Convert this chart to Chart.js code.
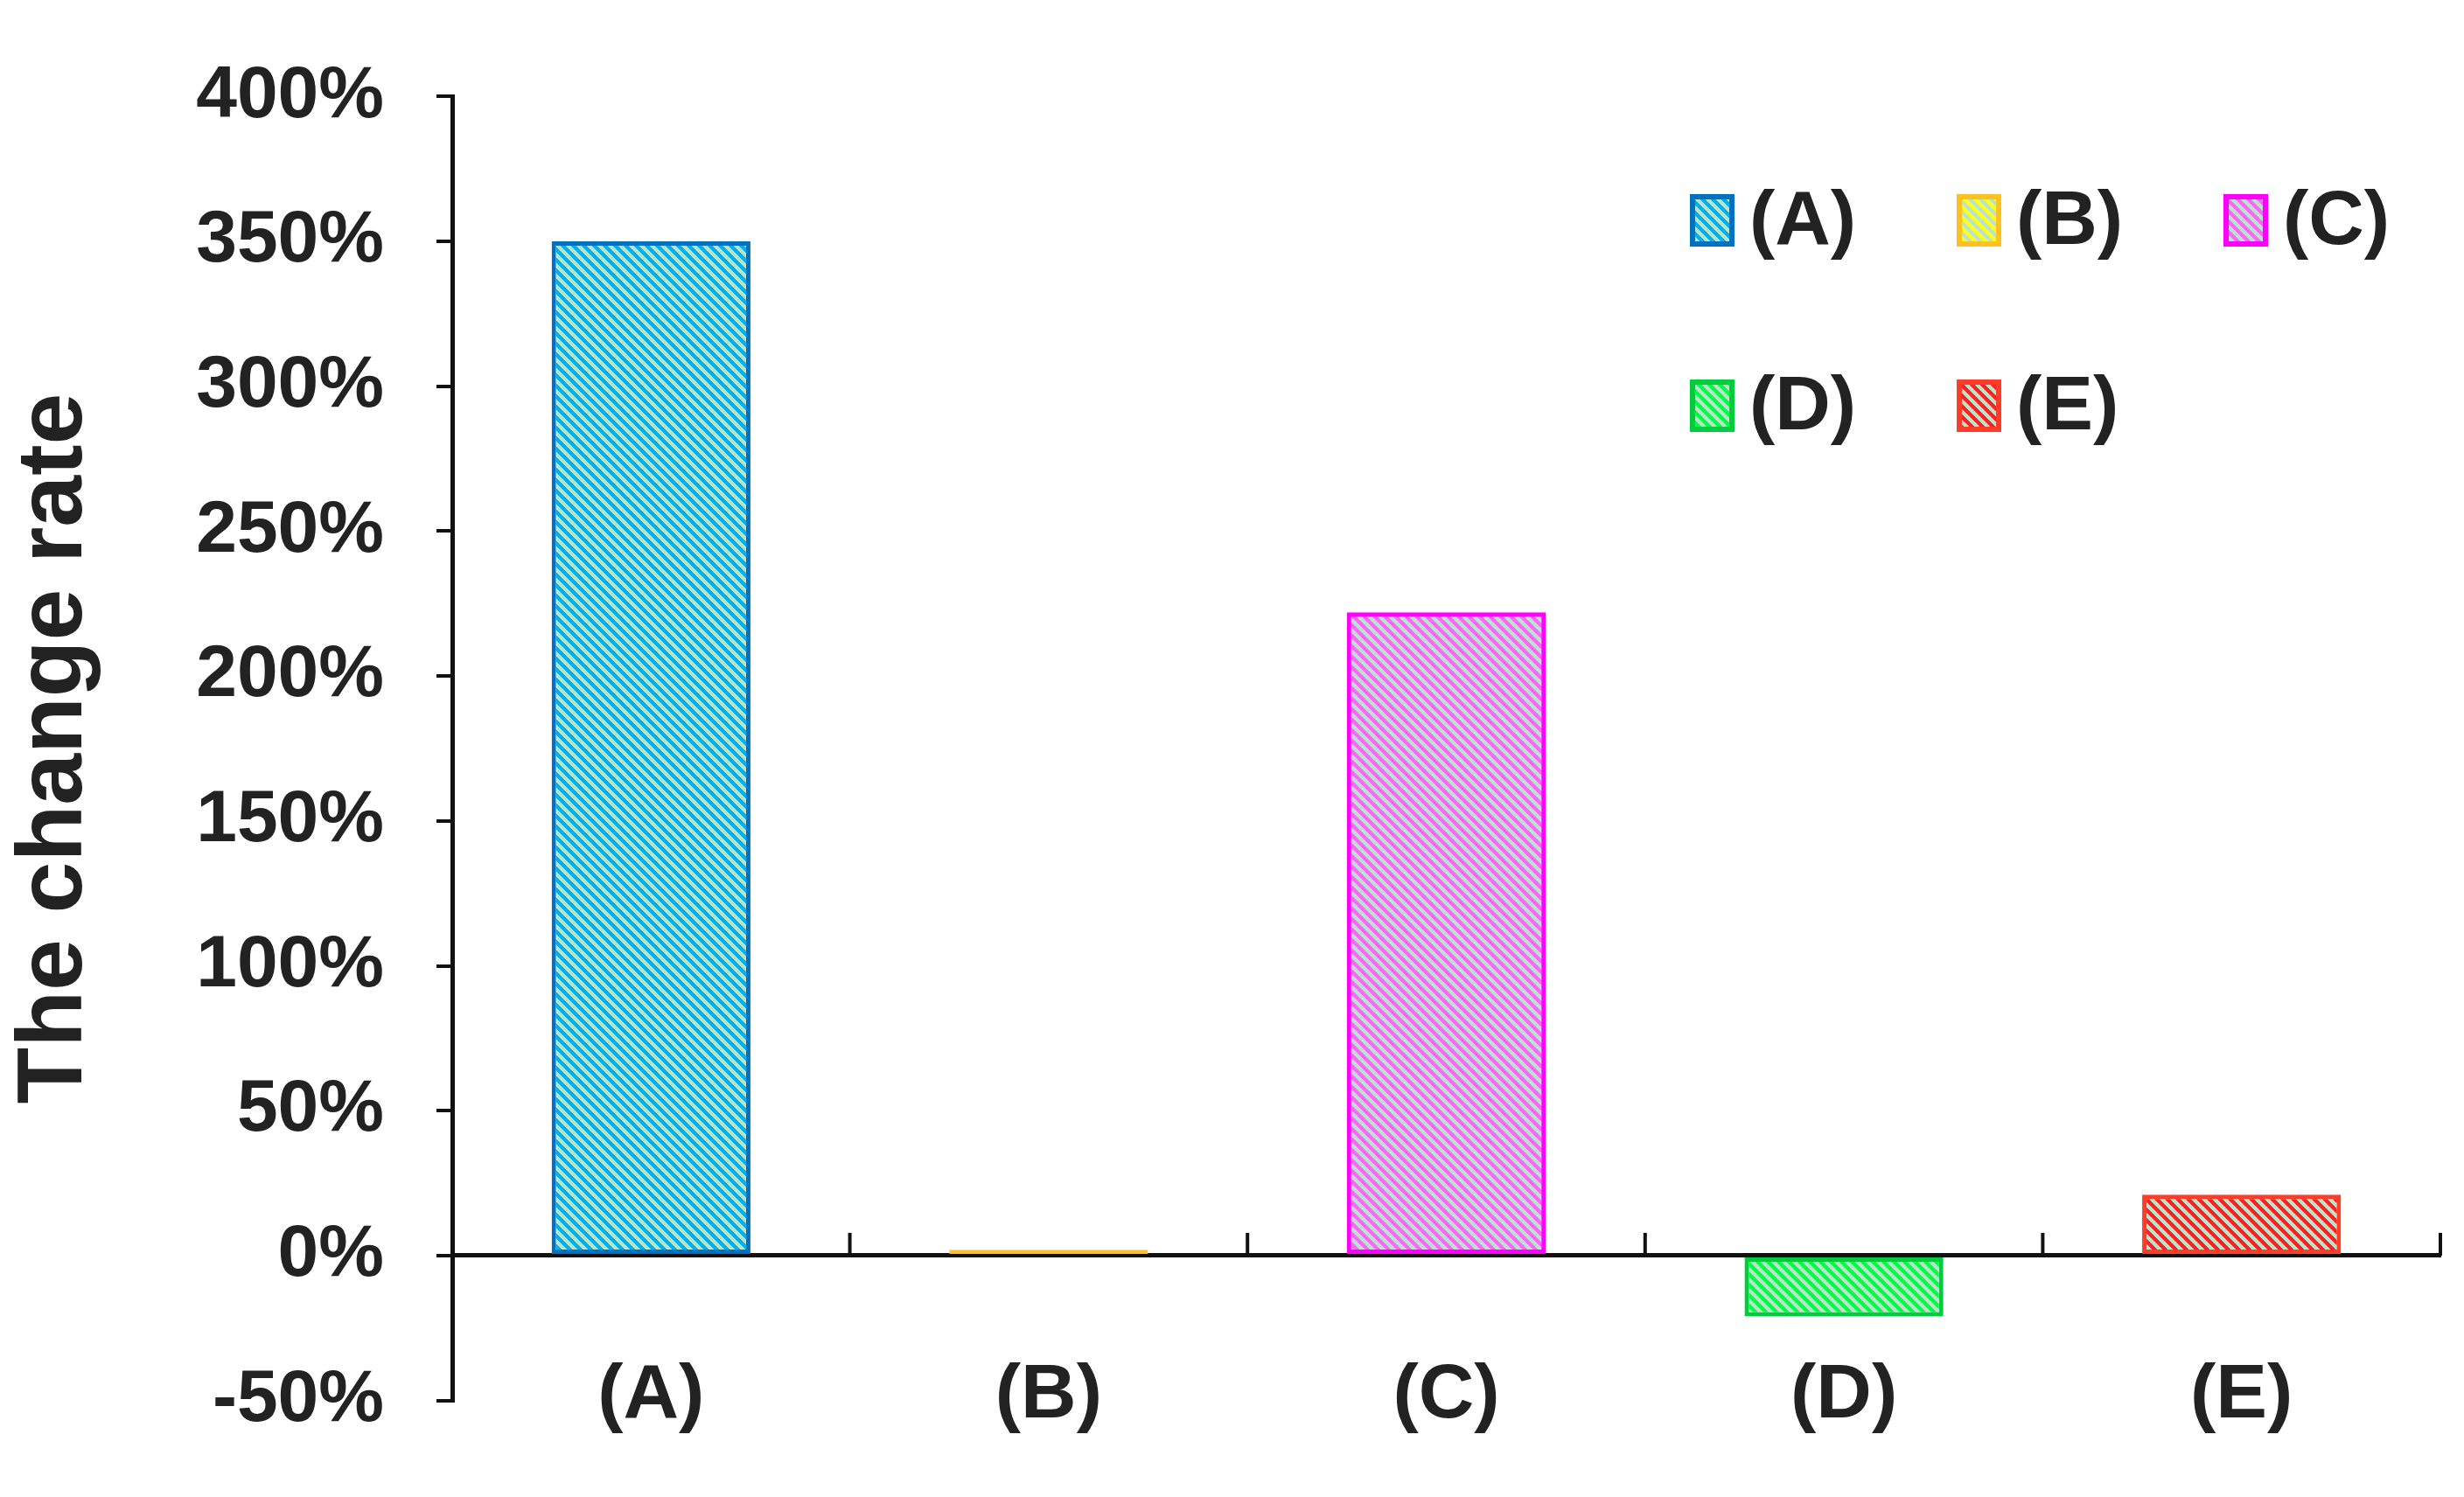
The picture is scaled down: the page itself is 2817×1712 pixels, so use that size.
<!DOCTYPE html>
<html>
<head>
<meta charset="utf-8">
<script src="https://cdn.jsdelivr.net/npm/chart.js@4"></script>
<style>
  html, body { margin: 0; padding: 0; background: #fff; }
  #wrap { width: 2817px; height: 1712px; }
</style>
</head>
<body>
<div id="wrap"><canvas id="c"></canvas></div>
<script>
var categories = ['(A)', '(B)', '(C)', '(D)', '(E)'];
var changeRate = [350, 2, 222, -21, 21];
var yTicks = [-50, 0, 50, 100, 150, 200, 250, 300, 350, 400];
var borderColors = ['#0070c0', '#ffc020', '#ff00ff', '#00cc3c', '#ff3c28'];
var stripeColors = ['#00b0f0', '#ffff20', '#ff66ff', '#00ff40', '#ff2020'];
var mint = '#b8e4cc';

function makePattern(col) {
    var t = document.createElement('canvas');
    t.width = 12; t.height = 12;
    var g = t.getContext('2d');
    for (var x = 0; x < 12; x++) {
        for (var y = 0; y < 12; y++) {
            g.fillStyle = (((x - y) % 12 + 12) % 12) < 6 ? col : mint;
            g.fillRect(x, y, 1, 1);
        }
    }
    return g.createPattern(t, 'repeat');
}

var datasets = categories.map(function (name, i) {
    var d = categories.map(function (c, j) { return j == i ? changeRate[i] : null; });
    return {
        label: name,
        data: d,
        backgroundColor: makePattern(stripeColors[i]),
        borderColor: borderColors[i],
        borderWidth: 5,
        borderSkipped: false,
        barPercentage: 0.5,
        categoryPercentage: 1
    };
});

var font = "'Liberation Sans', Arial, sans-serif";

// x ticks between categories pointing up, plus legend
var extras = {
    id: 'extras',
    afterDraw: function (chart) {
        var ctx = chart.ctx;
        var xs = chart.scales.x, ys = chart.scales.y;
        var y0 = ys.getPixelForValue(0);
        ctx.save();
        ctx.strokeStyle = '#111';
        ctx.lineWidth = 4;
        for (var i = 0; i < categories.length; i++) {
            var px = xs.getPixelForValue(i + 0.5);
            ctx.beginPath();
            ctx.moveTo(px, y0);
            ctx.lineTo(px, y0 - 26);
            ctx.stroke();
        }
        // legend
        var cols = [1935, 2240, 2545];
        var rows = [252, 464];
        ctx.font = 'bold 88px ' + font;
        ctx.textBaseline = 'middle';
        chart.data.datasets.forEach(function (ds, k) {
            var bx = cols[k % 3], by = rows[Math.floor(k / 3)];
            ctx.fillStyle = ds.backgroundColor;
            ctx.fillRect(bx, by - 27, 45, 54);
            ctx.strokeStyle = ds.borderColor;
            ctx.lineWidth = 6;
            ctx.strokeRect(bx, by - 27, 45, 54);
            ctx.fillStyle = '#222';
            ctx.fillText(ds.label, bx + 65, by + 3);
        });
        ctx.restore();
    }
};

new Chart(document.getElementById('c'), {
    type: 'bar',
    data: { labels: categories, datasets: datasets },
    plugins: [extras],
    options: {
        responsive: true,
        maintainAspectRatio: false,
        animation: false,
        devicePixelRatio: 1,
        skipNull: true,
        layout: { padding: { top: 8, right: 27, bottom: -15, left: 0 } },
        plugins: { legend: { display: false }, tooltip: { enabled: false } },
        scales: {
            x: {
                position: { y: 0 },
                grid: { display: false },
                border: { color: '#111', width: 5 },
                ticks: { color: '#222', padding: 100, font: { family: font, size: 88, weight: 'bold' } }
            },
            y: {
                min: -50,
                max: 400,
                afterFit: function (s) { s.width = 517; },
                afterBuildTicks: function (s) { s.ticks = yTicks.map(function (v) { return { value: v }; }); },
                grid: { drawOnChartArea: false, tickLength: 18, color: '#111', lineWidth: 4 },
                border: { color: '#111', width: 5 },
                ticks: {
                    color: '#222', padding: 60,
                    font: { family: font, size: 84, weight: 'bold' },
                    callback: function (v) { return v + '%'; }
                },
                title: {
                    display: true, text: 'The change rate', color: '#222',
                    font: { family: font, size: 106, weight: 'bold' }, padding: 0
                }
            }
        }
    }
});
</script>
</body>
</html>
